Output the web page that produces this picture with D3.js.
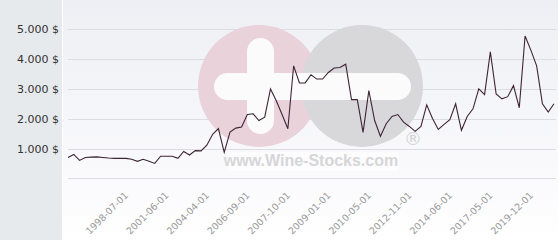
<!DOCTYPE html>
<html>
<head>
<meta charset="utf-8">
<script src="https://cdn.jsdelivr.net/npm/d3@7"></script>
<style>
  body { margin: 0; background: #fff; }
  svg { display: block; }
</style>
</head>
<body>
<div id="chart"></div>
<script>
// price history, one value per point (USD)
var prices = [
  700, 800, 600, 700, 710, 720, 700, 680, 670, 670,
  670, 640, 570, 640, 570, 500, 740, 740, 740, 670,
  900, 780, 930, 920, 1110, 1475, 1665, 870, 1550, 1685,
  1720, 2140, 2165, 1940, 2050, 3000, 2600, 2140, 1665, 3775,
  3200, 3200, 3475, 3330, 3330, 3550, 3700, 3720, 3830, 2640,
  2640, 1540, 2940, 1940, 1410, 1830, 2075, 2140, 1885, 1740,
  1575, 1740, 2465, 2010, 1640, 1810, 1965, 2500, 1610, 2075,
  2330, 3000, 2810, 4240, 2830, 2665, 2740, 3110, 2365, 4775,
  4300, 3775, 2500, 2220, 2500
]

// labelled points on the x axis
var tickIndex = [10, 17, 24, 31, 38, 45, 52, 59, 66, 73, 80]
var tickLabels = ["1998-07-01", "2001-06-01", "2004-04-01", "2006-09-01", "2007-10-01",
  "2009-01-01", "2010-05-01", "2012-11-01", "2014-06-01", "2017-05-01", "2019-12-01"]

var yTicks = [1000, 2000, 3000, 4000, 5000]

const width = 560, height = 240;
const plotLeft = 68, plotRight = 554, plotTop = 29.3, plotBottom = 178.3;

const svg = d3.select("#chart").append("svg")
  .attr("width", width)
  .attr("height", height);

var defs = svg.append("defs");
var grad = defs.append("linearGradient")
  .attr("id", "bg")
  .attr("x1", 0).attr("y1", 0).attr("x2", 0).attr("y2", 1);
grad.append("stop").attr("offset", "0%").attr("stop-color", "#eeeff4");
grad.append("stop").attr("offset", "80%").attr("stop-color", "#fbfbfd");
grad.append("stop").attr("offset", "100%").attr("stop-color", "#ffffff");

// side panel + plot background
svg.append("rect")
  .attr("x", 0).attr("y", 0)
  .attr("width", 62).attr("height", height)
  .style("fill", "#e7eaed");
svg.append("rect")
  .attr("x", 63).attr("y", 0)
  .attr("width", 495).attr("height", height)
  .style("fill", "url(#bg)");

var x = d3.scaleLinear()
  .domain([0, prices.length - 1])
  .range([plotLeft, plotRight]);

var y = d3.scaleLinear()
  .domain([0, 5000])
  .range([plotBottom, plotTop]);

// grid lines
svg.append("g")
  .selectAll("line")
  .data([0].concat(yTicks))
  .enter()
  .append("line")
  .attr("x1", plotLeft)
  .attr("x2", 556)
  .attr("y1", function(d) { return Math.round(y(d)) + 0.5 })
  .attr("y2", function(d) { return Math.round(y(d)) + 0.5 })
  .style("stroke", "#dcdde0")
  .style("stroke-width", 1);

// watermark
var wm = svg.append("g");
wm.append("circle")
  .attr("cx", 259).attr("cy", 86).attr("r", 61)
  .style("fill", "#ead2da");
wm.append("circle")
  .attr("cx", 362).attr("cy", 86).attr("r", 61)
  .style("fill", "#d8d8db");
wm.append("rect")
  .attr("x", 214).attr("y", 73)
  .attr("width", 197).attr("height", 27)
  .attr("rx", 13.5)
  .style("fill", "#fbfbfc");
wm.append("rect")
  .attr("x", 247).attr("y", 38)
  .attr("width", 27).attr("height", 96)
  .attr("rx", 13.5)
  .style("fill", "#fbfbfc");
wm.append("rect")
  .attr("x", 228).attr("y", 152)
  .attr("width", 170).attr("height", 19)
  .style("fill", "#ffffff")
  .style("opacity", 0.5);
wm.append("text")
  .attr("x", 311).attr("y", 166)
  .attr("text-anchor", "middle")
  .style("font-family", "Liberation Sans, Arial, sans-serif")
  .style("font-weight", "bold")
  .style("font-size", "16px")
  .style("fill", "#d6d6d8")
  .text("www.Wine-Stocks.com");
wm.append("text")
  .attr("x", 413).attr("y", 145)
  .attr("text-anchor", "middle")
  .style("font-family", "DejaVu Sans, sans-serif")
  .style("font-size", "18px")
  .style("fill", "#d2d2d5")
  .text("®");

// price line
var line = d3.line()
  .x(function(d, i) { return x(i) })
  .y(function(d) { return y(d) });

svg.append("path")
  .datum(prices)
  .attr("d", line)
  .style("fill", "none")
  .style("stroke", "#3d2533")
  .style("stroke-width", 1.1);

// y labels
var fmt = function(d) { return d3.format(",")(d).replace(",", ".") + " $" };
svg.append("g")
  .selectAll("text")
  .data(yTicks)
  .enter()
  .append("text")
  .attr("x", 59)
  .attr("y", function(d) { return y(d) + 4 })
  .attr("text-anchor", "end")
  .style("font-family", "DejaVu Sans, sans-serif")
  .style("font-size", "11px")
  .style("fill", "#333")
  .text(fmt);

// x labels
svg.append("g")
  .selectAll("text")
  .data(tickIndex)
  .enter()
  .append("text")
  .attr("transform", function(d) {
    return "translate(" + (x(d) + 3) + ",196) rotate(-45)"
  })
  .attr("text-anchor", "end")
  .style("font-family", "DejaVu Sans, sans-serif")
  .style("font-size", "9.5px")
  .style("fill", "#999")
  .text(function(d, i) { return tickLabels[i] });
</script>
</body>
</html>
